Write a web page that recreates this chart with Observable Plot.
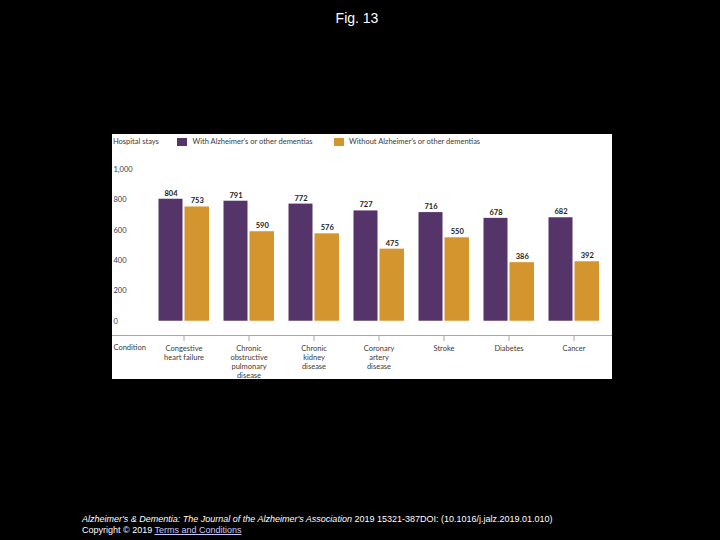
<!DOCTYPE html>
<html>
<head>
<meta charset="utf-8">
<script src="https://cdn.jsdelivr.net/npm/d3@7"></script>
<script src="https://cdn.jsdelivr.net/npm/@observablehq/plot@0.6"></script>
<style>
  html, body { margin: 0; padding: 0; background: #000; width: 720px; height: 540px; overflow: hidden; }
  #title { position: absolute; left: 0; width: 714px; top: 10px; text-align: center; color: #fff;
           font: 14px "Liberation Sans", Arial, sans-serif; }
  #panel { position: absolute; left: 112px; top: 134px; width: 500px; height: 245px; background: #fff; overflow: hidden; }
  #panel svg { display: block; }
  .lg { position: absolute; top: 0; height: 16px; font: 7.5px Lato, sans-serif; line-height: 16px; color: #3a3a3a; white-space: nowrap; }
  .sw { position: absolute; top: 3.5px; width: 9.5px; height: 8.5px; }
  #caption { position: absolute; left: 82px; top: 514px; color: #fff; font: 9px "Liberation Sans", Arial, sans-serif; line-height: 11px; white-space: nowrap; }
  #caption a { color: #c8c8ff; text-decoration: underline; }
</style>
</head>
<body>
<div id="title">Fig. 13</div>
<div id="panel">
  <div id="chart"></div>
  <div class="lg" style="left:1px">Hospital stays</div>
  <div class="sw" style="left:65px;background:#553469"></div>
  <div class="lg" style="left:80.5px">With Alzheimer’s or other dementias</div>
  <div class="sw" style="left:222px;background:#d4952f"></div>
  <div class="lg" style="left:237px">Without Alzheimer’s or other dementias</div>
</div>
<div id="caption">
  <div><i>Alzheimer's &amp; Dementia: The Journal of the Alzheimer's Association</i> 2019 15321-387DOI: (10.1016/j.jalz.2019.01.010)</div>
  <div>Copyright © 2019 <a>Terms and Conditions</a></div>
</div>
<script>
const categories = ["Congestive heart failure", "Chronic obstructive pulmonary disease", "Chronic kidney disease",
  "Coronary artery disease", "Stroke", "Diabetes", "Cancer"];
const tickLabels = ["Congestive\nheart failure", "Chronic\nobstructive\npulmonary\ndisease", "Chronic\nkidney\ndisease",
  "Coronary\nartery\ndisease", "Stroke", "Diabetes", "Cancer"];
const withDementia = [804, 791, 772, 727, 716, 678, 682];
const withoutDementia = [753, 590, 576, 475, 550, 386, 392];
const yTicks = [0, 200, 400, 600, 800, 1000];

const rows = categories.map((c, i) => ({category: c, with: withDementia[i], without: withoutDementia[i]}));
const labelOf = new Map(categories.map((c, i) => [c, tickLabels[i]]));

const purple = "#553469", orange = "#d4952f", textColor = "#3a3a3a";

const chart = Plot.plot({
  width: 500,
  height: 245,
  marginTop: 35,
  marginBottom: 44,
  marginLeft: 0,
  marginRight: 0,
  style: {background: "#fff", fontFamily: "Lato, sans-serif", fontSize: "7.5px", color: textColor},
  x: {domain: categories, padding: 0, paddingOuter: 0.34615, align: 0.8556, axis: null},
  y: {domain: [-94, 1000], axis: null},
  marks: [
    Plot.frame({anchor: "bottom", stroke: "#a8a8a8"}),
    Plot.axisX({tickSize: 6, tickPadding: 3.3, stroke: "#a8a8a8", fill: textColor, label: null,
      tickFormat: d => labelOf.get(d), lineHeight: 1.2}),
    Plot.axisY({ticks: yTicks, tickSize: 0, tickPadding: 0, textAnchor: "start", dx: 1, fill: textColor, label: null}),
    Plot.text(["Condition"], {text: d => d, frameAnchor: "bottom-left", textAnchor: "start", lineAnchor: "top",
      dx: 1, dy: 9.3, fill: textColor}),
    Plot.barY(rows, {x: "category", y: "with", fill: purple, insetLeft: 7.5, insetRight: 33.5}),
    Plot.barY(rows, {x: "category", y: "without", fill: orange, insetLeft: 33.5, insetRight: 7}),
    Plot.text(rows, {x: "category", y: "with", text: d => String(d.with), dx: -13, dy: -3.5,
      lineAnchor: "bottom", fontWeight: "bold", fill: "#222"}),
    Plot.text(rows, {x: "category", y: "without", text: d => String(d.without), dx: 13.25, dy: -3.5,
      lineAnchor: "bottom", fontWeight: "bold", fill: "#222"})
  ]
});
document.getElementById("chart").appendChild(chart);
</script>
</body>
</html>
